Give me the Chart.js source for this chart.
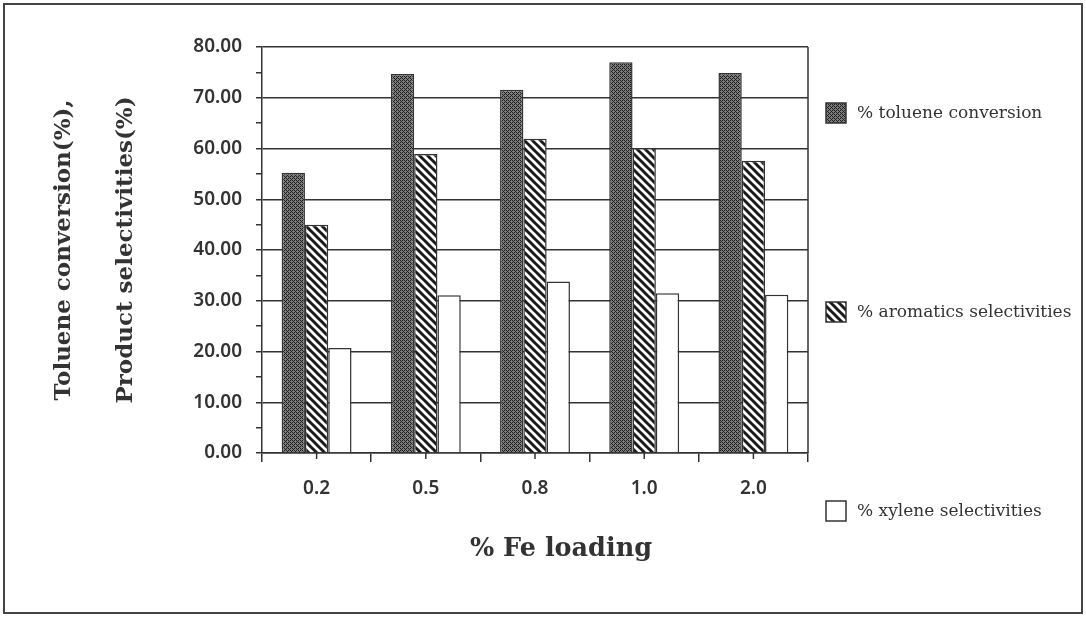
<!DOCTYPE html>
<html>
<head>
<meta charset="utf-8">
<script src="https://cdn.jsdelivr.net/npm/chart.js@4.4.1/dist/chart.umd.min.js"></script>
<style>
  html, body { margin: 0; padding: 0; background: #fff; }
  #wrap { width: 1086px; height: 620px; position: relative; }
</style>
</head>
<body>
<div id="wrap"><canvas id="chart" width="1086" height="620"></canvas></div>
<script>
// Catalyst series: Fe loading (wt%) on the x axis
const feLoading = ['0.2', '0.5', '0.8', '1.0', '2.0'];
const tolueneConversion = [55.2, 74.7, 71.6, 77.0, 74.9];
const aromaticsSelectivity = [45.0, 58.9, 61.9, 60.1, 57.6];
const xyleneSelectivity = [20.7, 31.1, 33.8, 31.5, 31.2];
const seriesLabels = ['% toluene conversion', '% aromatics selectivities', '% xylene selectivities'];
const yAxisTitle = ['Toluene conversion(%),', 'Product selectivities(%)'];
const xAxisTitle = '% Fe loading';
const yMin = 0, yMax = 80, yMajorStep = 10, yMinorStep = 5;

const INK = '#333';

// dense dark cross-hatch fill
function denseHatch() {
  const c = document.createElement('canvas');
  c.width = 4; c.height = 4;
  const g = c.getContext('2d');
  g.fillStyle = '#7c7c7c';
  g.fillRect(0, 0, 4, 4);
  g.fillStyle = '#1e1e1e';
  [[0,0],[1,1],[2,2],[3,3],[2,0],[0,2]].forEach(([x, y]) => g.fillRect(x, y, 1, 1));
  return g.createPattern(c, 'repeat');
}

// wide black diagonal stripes on white
function diagonalStripes() {
  const s = 8;
  const c = document.createElement('canvas');
  c.width = s; c.height = s;
  const g = c.getContext('2d');
  g.fillStyle = '#fff';
  g.fillRect(0, 0, s, s);
  g.strokeStyle = '#1a1a1a';
  g.lineWidth = 3;
  for (const o of [-s, 0, s]) {
    g.beginPath();
    g.moveTo(o - 1, -1);
    g.lineTo(o + s + 1, s + 1);
    g.stroke();
  }
  return g.createPattern(c, 'repeat');
}

// figure frame, right edge of the plot, centre ticks, x title and legend
const decorations = {
  id: 'decorations',
  beforeDatasetsDraw(chart) {
    const { ctx, chartArea: a } = chart;
    ctx.save();
    ctx.strokeStyle = INK;
    ctx.lineWidth = 1.5;
    ctx.beginPath();
    ctx.moveTo(a.right, a.top);
    ctx.lineTo(a.right, a.bottom);
    ctx.stroke();
    ctx.restore();
  },
  afterDraw(chart) {
    const { ctx, chartArea: a } = chart;
    const xs = chart.scales.x;
    ctx.save();

    // outer frame
    ctx.strokeStyle = '#444';
    ctx.lineWidth = 2;
    ctx.strokeRect(4, 4, 1078, 609);

    // tick marks under each category centre
    ctx.strokeStyle = INK;
    ctx.lineWidth = 1.5;
    feLoading.forEach((_, i) => {
      const px = xs.getPixelForValue(i);
      ctx.beginPath();
      ctx.moveTo(px, a.bottom);
      ctx.lineTo(px, a.bottom + 6);
      ctx.stroke();
    });

    // x axis title
    ctx.fillStyle = INK;
    ctx.font = 'bold 25.5px "DejaVu Serif"';
    ctx.textAlign = 'center';
    ctx.textBaseline = 'middle';
    ctx.fillText(xAxisTitle, 561, 549);

    // legend, spread down the right margin
    const rows = [113, 312, 511];
    ctx.font = '17px "DejaVu Serif"';
    ctx.textAlign = 'left';
    chart.data.datasets.forEach((ds, i) => {
      const cy = rows[i];
      ctx.fillStyle = ds.backgroundColor;
      ctx.fillRect(826, cy - 10, 20, 20);
      ctx.strokeStyle = INK;
      ctx.lineWidth = 1.5;
      ctx.strokeRect(826, cy - 10, 20, 20);
      ctx.fillStyle = INK;
      ctx.fillText(ds.label, 857, cy + 1);
    });
    ctx.restore();
  }
};

const tickFont = { family: '"Noto Sans"', size: 19, weight: '600' };

new Chart(document.getElementById('chart'), {
  type: 'bar',
  data: {
    labels: feLoading,
    datasets: [
      { label: seriesLabels[0], data: tolueneConversion, backgroundColor: denseHatch() },
      { label: seriesLabels[1], data: aromaticsSelectivity, backgroundColor: diagonalStripes() },
      { label: seriesLabels[2], data: xyleneSelectivity, backgroundColor: '#fff' }
    ]
  },
  options: {
    responsive: false,
    animation: false,
    devicePixelRatio: 1,
    layout: { padding: { top: 47, right: 278, left: 0, bottom: 0 } },
    datasets: {
      bar: {
        borderColor: INK,
        borderWidth: 1.5,
        categoryPercentage: 0.64,
        barPercentage: 1.0
      }
    },
    plugins: {
      legend: { display: false },
      tooltip: { enabled: false }
    },
    scales: {
      x: {
        afterFit(s) { s.height = 167; },
        ticks: { padding: 15, color: INK, font: tickFont },
        grid: { offset: true, drawOnChartArea: false, color: INK, lineWidth: 1.5, tickLength: 9 },
        border: { color: INK, width: 1.5 }
      },
      y: {
        min: yMin,
        max: yMax,
        afterFit(s) { s.width = 262; },
        ticks: {
          stepSize: yMinorStep,
          autoSkip: false,
          padding: 14,
          color: INK,
          font: tickFont,
          callback: v => (v % yMajorStep === 0 ? v.toFixed(2) : '')
        },
        grid: {
          color: c => (c.tick && c.tick.value % yMajorStep === 0 ? INK : 'rgba(0,0,0,0)'),
          tickColor: INK,
          lineWidth: 1.5,
          tickWidth: 1.5,
          tickLength: 6
        },
        border: { color: INK, width: 1.5 },
        title: {
          display: true,
          text: yAxisTitle,
          color: INK,
          font: { family: '"DejaVu Serif"', size: 23, weight: 'bold', lineHeight: 2.7 },
          padding: { top: 33, bottom: 0 }
        }
      }
    }
  },
  plugins: [decorations]
});
</script>
</body>
</html>
